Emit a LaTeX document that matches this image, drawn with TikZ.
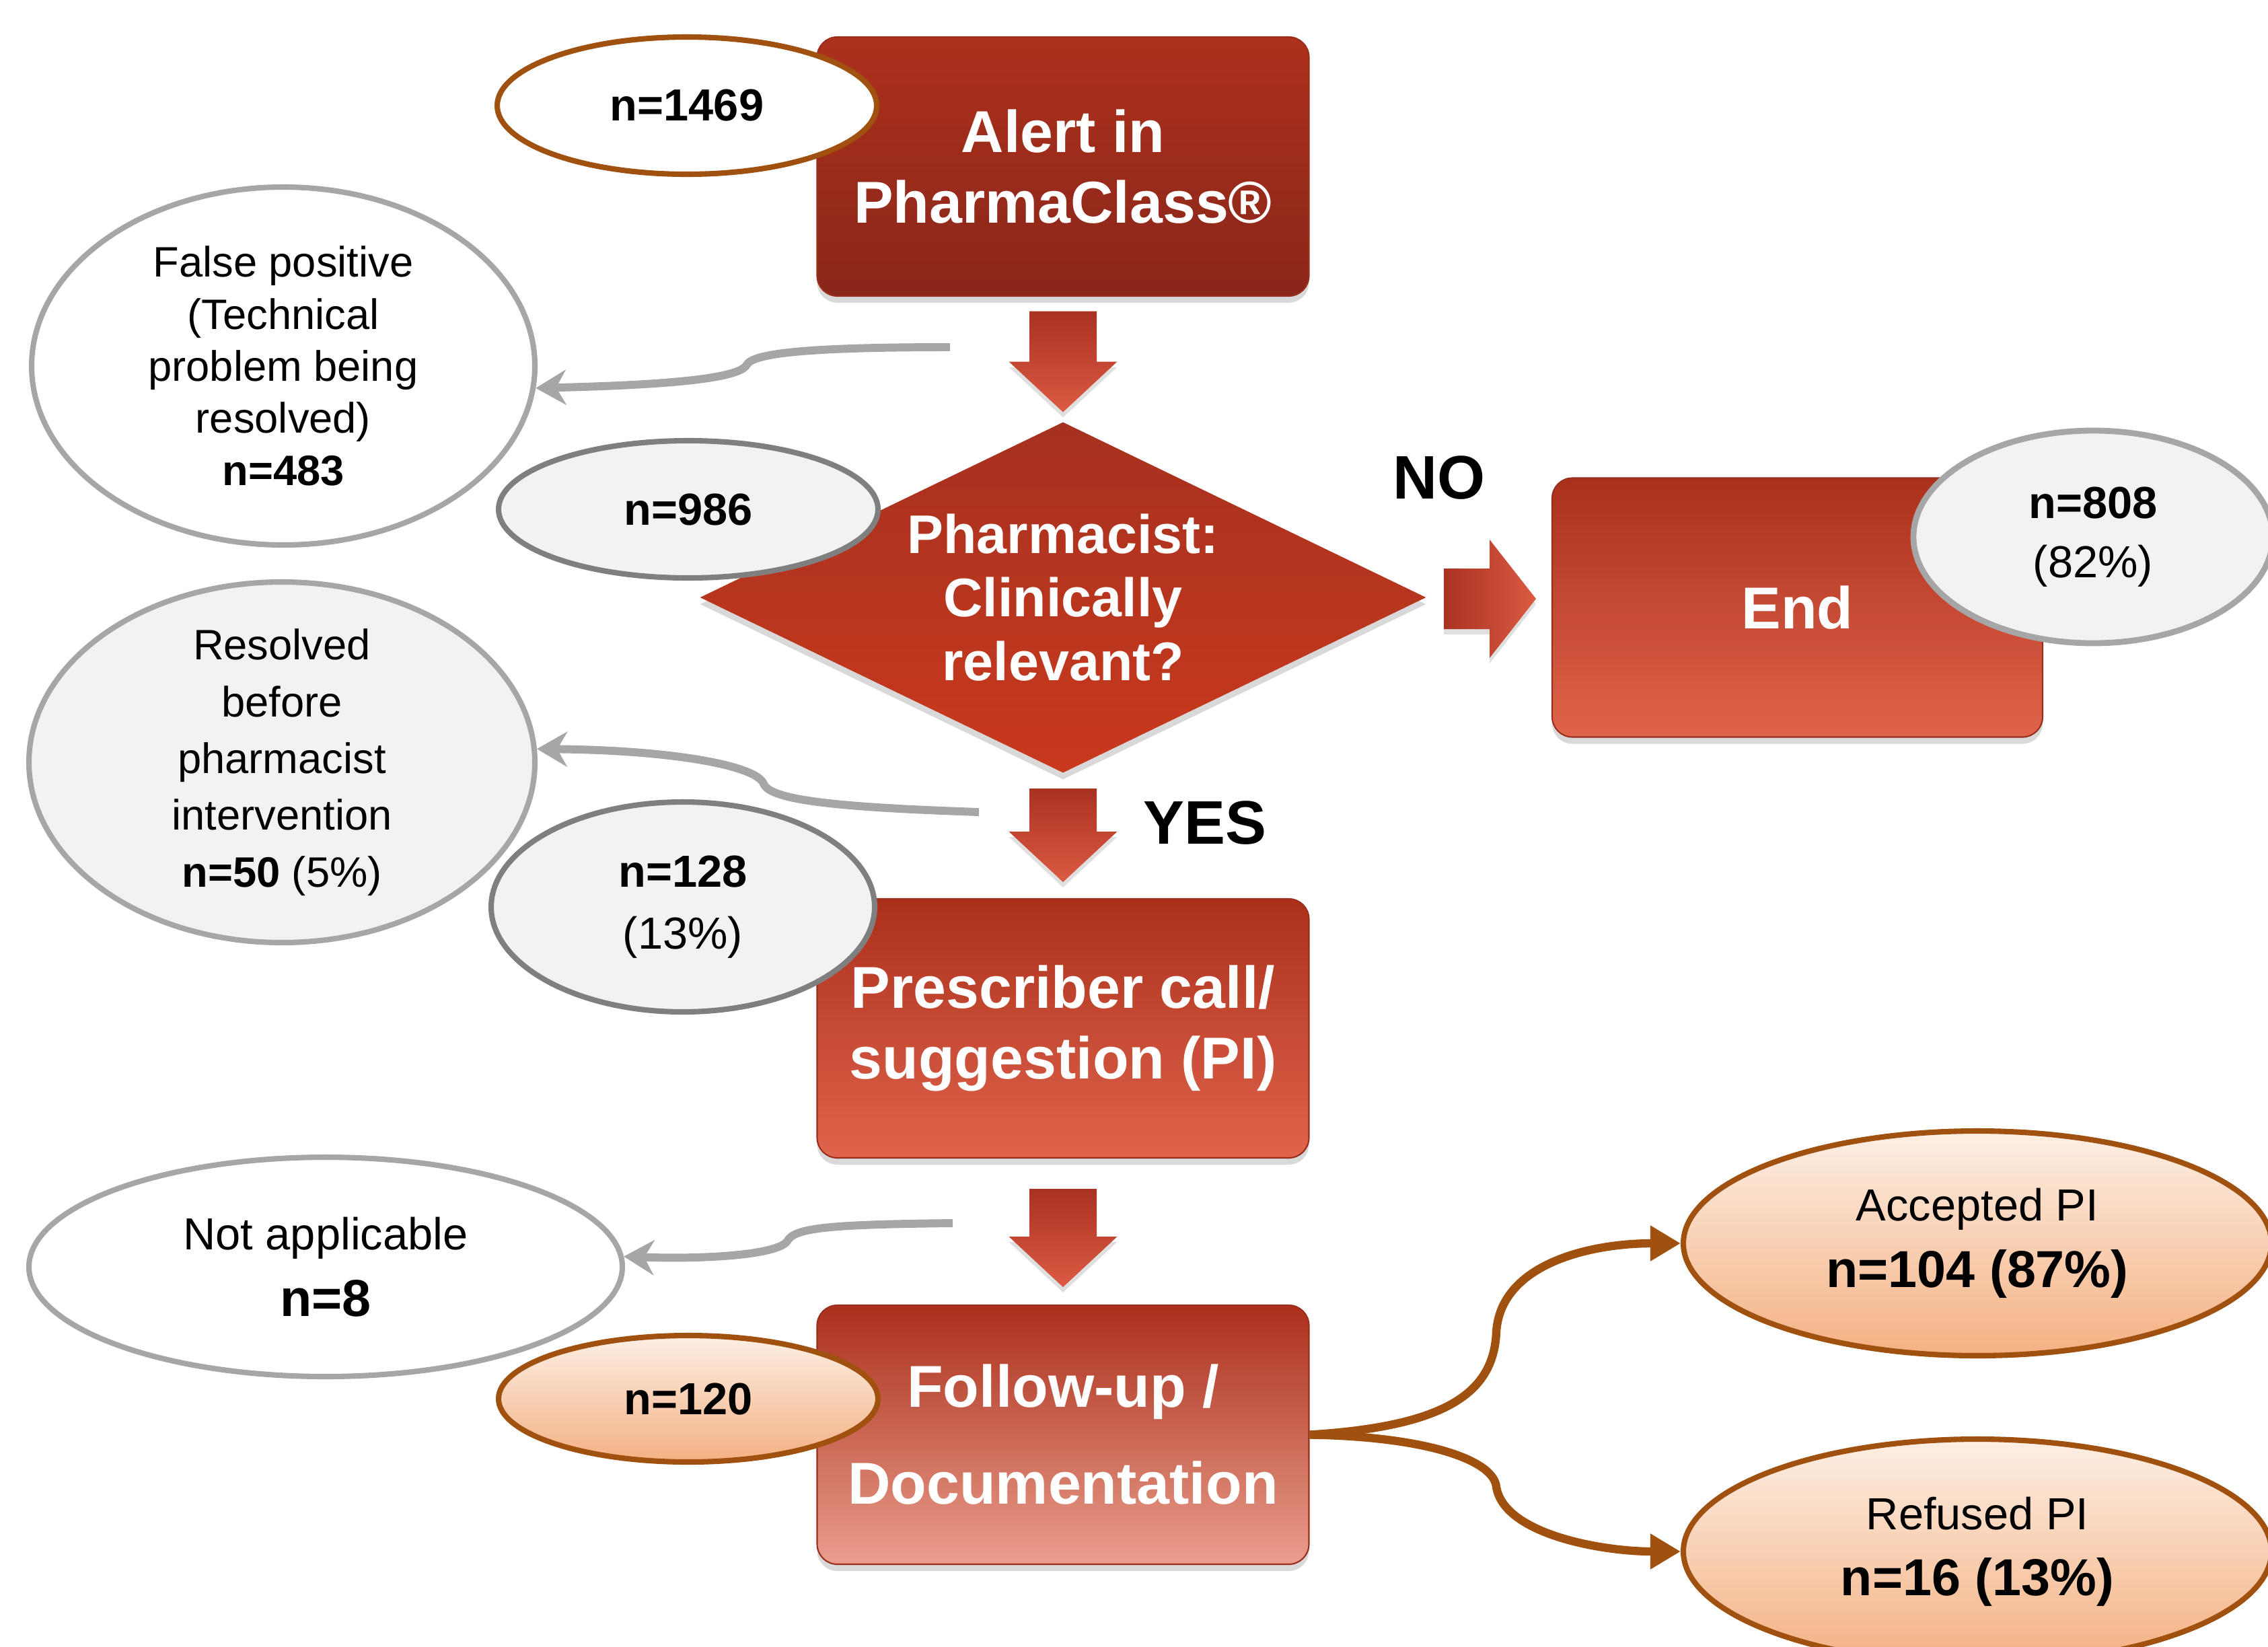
\documentclass[tikz,border=0pt]{standalone}
\usepackage{fontspec}
\setmainfont{Liberation Sans}
\usetikzlibrary{shapes.geometric, arrows.meta, positioning, calc, shadows}

\definecolor{alerttop}{HTML}{AD311C}
\definecolor{alertbot}{HTML}{89261A}
\definecolor{boxtop}{HTML}{AB301B}
\definecolor{boxbot}{HTML}{E0644C}
\definecolor{followbot}{HTML}{EA9D8D}
\definecolor{boxedge}{HTML}{9A2E1E}
\definecolor{diamtop}{HTML}{A6311F}
\definecolor{diambot}{HTML}{C9391E}
\definecolor{arrowtop}{HTML}{A93220}
\definecolor{arrowbot}{HTML}{DC5A43}
\definecolor{brownline}{HTML}{A0500F}
\definecolor{peachtop}{HTML}{FDEFE4}
\definecolor{peachbot}{HTML}{F4B183}
\definecolor{ringgray}{HTML}{A6A6A6}
\definecolor{ringdark}{HTML}{7F7F7F}
\definecolor{cellfill}{HTML}{F2F2F2}

\newcommand{\bignum}[1]{{\fontsize{22}{28}\selectfont\bfseries #1}}

\tikzset{
    % block arrow pointing down, #1 = length
    pics/blockdown/.style={code={
        \shade[top color=arrowtop, bottom color=arrowbot,
               drop shadow={shadow xshift=0pt, shadow yshift=-0.08cm, opacity=0.25}]
            (-0.5,{#1/2}) -- (0.5,{#1/2}) -- (0.5,{0.75-#1/2}) -- (0.805,{0.75-#1/2})
            -- (0,{-#1/2}) -- (-0.805,{0.75-#1/2}) -- (-0.5,{0.75-#1/2}) -- cycle;
    }},
    % block arrow pointing right
    pics/blockright/.style={code={
        \shade[left color=arrowtop, right color=arrowbot,
               drop shadow={shadow xshift=0pt, shadow yshift=-0.08cm, opacity=0.25}]
            (-0.685,0.45) -- (-0.005,0.45) -- (-0.005,0.88) -- (0.685,0)
            -- (-0.005,-0.88) -- (-0.005,-0.45) -- (-0.685,-0.45) -- cycle;
    }}
}

\begin{document}
\begin{tikzpicture}[>=Stealth, line width=0.3mm,
    stepnode/.style={rectangle, rounded corners=0.3cm, draw=boxedge, line width=0.6pt,
        top color=boxtop, bottom color=boxbot, minimum width=7.31cm, minimum height=3.85cm,
        text=white, align=center, font=\fontsize{25}{30}\selectfont\bfseries,
        drop shadow={shadow xshift=0pt, shadow yshift=-0.1cm, opacity=0.3}},
    decision/.style={diamond, aspect=2.07, top color=diamtop, bottom color=diambot,
        minimum width=10.8cm, minimum height=5.22cm, inner sep=0pt, text=white, align=center,
        font=\fontsize{23}{27}\selectfont\bfseries,
        drop shadow={shadow xshift=0pt, shadow yshift=-0.1cm, opacity=0.3}},
    answer/.style={font=\fontsize{26}{30}\selectfont\bfseries},
    countnode/.style={ellipse, line width=2.3pt, align=center, inner sep=0pt,
        font=\fontsize{19}{25}\selectfont},
    whitering/.style={countnode, draw=ringgray, fill=white},
    grayring/.style={countnode, draw=ringgray, fill=cellfill},
    darkring/.style={countnode, draw=ringdark, fill=cellfill},
    brownring/.style={countnode, draw=brownline, fill=white},
    peachring/.style={countnode, draw=brownline, top color=peachtop, bottom color=peachbot},
    grayarrow/.style={draw=ringgray, line width=3.4pt, -{Stealth[length=4.5mm, width=5.2mm]}},
    brownarrow/.style={draw=brownline, line width=3.5pt, -{Triangle[length=4.5mm, width=5mm]}}
]
    \useasboundingbox (0,0) rectangle (33.71,-24.47);

    % Main steps of the flow
    \node[stepnode, top color=alerttop, bottom color=alertbot] (alert) at (15.80,-2.475) {Alert in\\PharmaClass®};
    \node[decision] (clinical) at (15.80,-8.88) {Pharmacist:\\Clinically\\relevant?};
    \node[stepnode, minimum width=7.29cm] (finish) at (26.715,-9.03) {End};
    \node[stepnode] (call) at (15.80,-15.285) {Prescriber call/\\suggestion (PI)};
    \node[stepnode, bottom color=followbot, font=\fontsize{25}{41}\selectfont\bfseries] (follow) at (15.80,-21.325) {Follow-up /\\Documentation};

    % Block arrows between the steps
    \pic (arrowA) at (15.80,-5.375) {blockdown=1.5};
    \pic (arrowB) at (15.80,-12.415) {blockdown=1.39};
    \pic (arrowC) at (15.80,-18.40) {blockdown=1.46};
    \pic (arrowN) at (22.145,-8.90) {blockright};
    \node[answer] (no) at (21.39,-7.10) {NO};
    \node[answer] (yes) at (17.91,-12.23) {YES};

    % Counts at each step
    \node[brownring, minimum width=5.64cm, minimum height=2.04cm] (nalert) at (10.21,-1.57) {\bfseries n=1469};
    \node[whitering, minimum width=7.48cm, minimum height=5.32cm, inner ysep=-2mm, font=\fontsize{18}{22}\selectfont] (falsepos) at (4.21,-5.44)
        {False positive\\(Technical\\problem being\\resolved)\\\textbf{n=483}};
    \node[darkring, minimum width=5.64cm, minimum height=2.04cm] (nclinical) at (10.23,-7.57) {\bfseries n=986};
    \node[grayring, line width=2.5pt, minimum width=5.34cm, minimum height=3.16cm] (nfinish) at (31.11,-7.98) {\textbf{n=808}\\(82\%)};
    \node[grayring, minimum width=7.52cm, minimum height=5.36cm, inner ysep=-2mm, font=\fontsize{18}{24}\selectfont] (resolved) at (4.19,-11.33)
        {Resolved\\before\\pharmacist\\intervention\\\textbf{n=50} (5\%)};
    \node[darkring, minimum width=5.7cm, minimum height=3.12cm, font=\fontsize{19}{26}\selectfont] (ncall) at (10.15,-13.48) {\textbf{n=128}\\(13\%)};
    \node[whitering, minimum width=8.82cm, minimum height=3.26cm, font=\fontsize{19}{28}\selectfont] (notappl) at (4.84,-18.83) {Not applicable\\\bignum{n=8}};
    \node[peachring, minimum width=5.64cm, minimum height=1.88cm] (nfollow) at (10.23,-20.79) {\bfseries n=120};
    \node[peachring, minimum width=8.74cm, minimum height=3.34cm, font=\fontsize{19}{28}\selectfont] (accepted) at (29.39,-18.48) {Accepted PI\\\bignum{n=104 (87\%)}};
    \node[peachring, minimum width=8.74cm, minimum height=3.34cm, font=\fontsize{19}{28}\selectfont] (refused) at (29.39,-23.06) {Refused PI\\\bignum{n=16 (13\%)}};

    % Gray arrows to the excluded alerts
    \coordinate (fpstart) at (14.12,-5.16);
    \coordinate (resstart) at (14.55,-12.07);
    \coordinate (nastart) at (14.16,-18.18);
    \draw[grayarrow] (fpstart) .. controls (12.0,-5.16) and (11.2,-5.25) .. (11.1,-5.42)
        .. controls (11.0,-5.62) and (10.0,-5.72) .. (falsepos.-5);
    \draw[grayarrow] (resstart) .. controls (12.5,-12.0) and (11.45,-11.9) .. (11.35,-11.65)
        .. controls (11.25,-11.38) and (10.0,-11.15) .. (resolved.3);
    \draw[grayarrow] (nastart) .. controls (12.3,-18.2) and (11.8,-18.25) .. (11.7,-18.45)
        .. controls (11.55,-18.65) and (10.5,-18.72) .. (notappl.2);

    % Outcome of the follow-up
    \draw[brownarrow] (follow.east) .. controls (21.5,-21.2) and (22.2,-20.7) .. (22.24,-19.8)
        .. controls (22.3,-18.8) and (23.6,-18.48) .. (accepted.west);
    \draw[brownarrow] (follow.east) .. controls (21.2,-21.35) and (22.2,-21.7) .. (22.24,-22.1)
        .. controls (22.35,-22.8) and (23.8,-23.06) .. (refused.west);
\end{tikzpicture}
\end{document}
